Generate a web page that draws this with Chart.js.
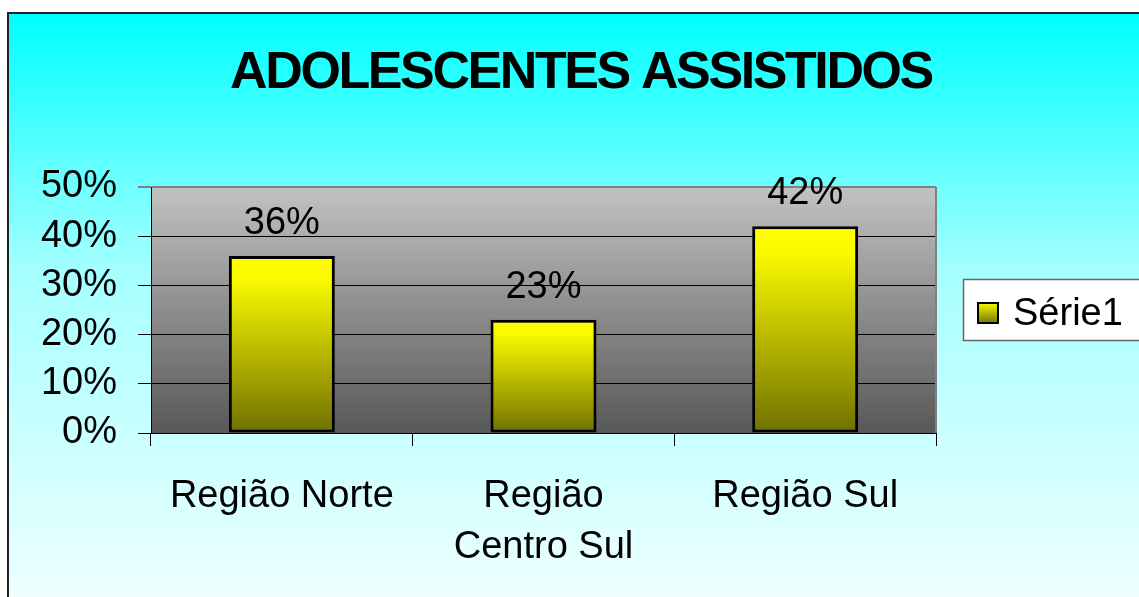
<!DOCTYPE html>
<html>
<head>
<meta charset="utf-8">
<script src="https://cdn.jsdelivr.net/npm/chart.js"></script>
<style>
  body { margin: 0; background: #fff; overflow: hidden; }
  #frame {
    position: absolute; left: 7px; top: 12px; width: 1140px; height: 600px;
    border-left: 2px solid #222; border-top: 2px solid #222;
    background: linear-gradient(to bottom, #00ffff 0%, #a6ffff 43%, #f2ffff 100%);
  }
  #chart { position: absolute; left: 0; top: 0; }
</style>
</head>
<body>
<div id="frame"><canvas id="chart" width="1130" height="583"></canvas></div>
<script>
  // chart data
  const chartTitle = "ADOLESCENTES ASSISTIDOS";
  const categories = ["Região Norte", ["Região", "Centro Sul"], "Região Sul"];
  const seriesName = "Série1";
  const values = [36, 23, 42];
  const yMin = 0, yMax = 50, yStep = 10;

  const FONT = "'Liberation Sans', Arial, sans-serif";

  // gray gradient behind the plot + gray right border
  const plotBg = {
    id: "plotBg",
    beforeDraw(chart) {
      const { ctx, chartArea: a } = chart;
      const g = ctx.createLinearGradient(0, a.top, 0, a.bottom);
      g.addColorStop(0, "#c2c2c2");
      g.addColorStop(1, "#585858");
      ctx.save();
      ctx.fillStyle = g;
      ctx.fillRect(a.left, a.top, a.right - a.left, a.bottom - a.top);
      ctx.restore();
    },
    beforeDatasetsDraw(chart) {
      const { ctx, chartArea: a } = chart;
      ctx.save();
      ctx.strokeStyle = "#808080";
      ctx.lineWidth = 2;
      ctx.beginPath();
      ctx.moveTo(a.right, a.top);
      ctx.lineTo(a.right, a.bottom);
      ctx.stroke();
      ctx.restore();
    },
  };

  // value labels above bars
  const valueLabels = {
    id: "valueLabels",
    afterDatasetsDraw(chart) {
      const ctx = chart.ctx;
      ctx.save();
      ctx.font = "38px " + FONT;
      ctx.fillStyle = "#000";
      ctx.textAlign = "center";
      ctx.textBaseline = "alphabetic";
      chart.getDatasetMeta(0).data.forEach((bar, i) => {
        ctx.fillText(values[i] + "%", bar.x, bar.y - 22);
      });
      ctx.restore();
    },
  };

  // title and legend box
  const titleLegend = {
    id: "titleLegend",
    afterDraw(chart) {
      const ctx = chart.ctx;
      ctx.save();
      ctx.font = "bold 52px " + FONT;
      ctx.letterSpacing = "-2.4px";
      ctx.fillStyle = "#000";
      ctx.textAlign = "center";
      ctx.fillText(chartTitle, 572, 74);
      ctx.letterSpacing = "0px";

      // legend
      ctx.fillStyle = "#fff";
      ctx.fillRect(954, 265, 200, 61);
      ctx.strokeStyle = "#666";
      ctx.lineWidth = 1.5;
      ctx.strokeRect(954.5, 265.5, 200, 61);
      const g = ctx.createLinearGradient(0, 288, 0, 310);
      g.addColorStop(0, "#ffff00");
      g.addColorStop(1, "#707000");
      ctx.fillStyle = g;
      ctx.fillRect(968, 288, 22, 22);
      ctx.strokeStyle = "#000";
      ctx.lineWidth = 2;
      ctx.strokeRect(969, 289, 20, 20);
      ctx.fillStyle = "#000";
      ctx.font = "38px " + FONT;
      ctx.textAlign = "left";
      ctx.fillText(seriesName, 1004, 311);
      ctx.restore();
    },
  };

  new Chart("chart", {
    type: "bar",
    data: {
      labels: categories,
      datasets: [
        {
          label: seriesName,
          data: values,
          borderColor: "#000",
          borderWidth: 3,
          borderSkipped: false,
          categoryPercentage: 1,
          barPercentage: 0.405,
          backgroundColor: (c) => {
            const chart = c.chart;
            const y = chart.scales.y;
            if (!y || c.dataIndex === undefined) return "#ffff00";
            const top = y.getPixelForValue(values[c.dataIndex]);
            const bot = y.getPixelForValue(0);
            if (!isFinite(top) || !isFinite(bot) || top === bot) return "#ffff00";
            const g = chart.ctx.createLinearGradient(0, top, 0, bot);
            g.addColorStop(0, "#ffff00");
            g.addColorStop(0.12, "#fbfb00");
            g.addColorStop(1, "#707000");
            return g;
          },
        },
      ],
    },
    plugins: [plotBg, valueLabels, titleLegend],
    options: {
      responsive: false,
      animation: false,
      layout: { padding: { top: 173, right: 203, left: 0, bottom: 0 } },
      plugins: {
        legend: { display: false },
        title: { display: false },
        tooltip: { enabled: false },
      },
      scales: {
        y: {
          min: yMin,
          max: yMax,
          afterFit: (s) => { s.width = 142; },
          ticks: {
            stepSize: yStep,
            padding: 21,
            color: "#000",
            font: { family: FONT, size: 38 },
            callback: (v) => v + "%",
          },
          grid: {
            color: (c) => (c.tick && c.tick.value === yMax ? "#808080" : "#000"),
            lineWidth: (c) => (c.tick && c.tick.value === yMax ? 2 : 1),
            tickLength: 13,
          },
          border: { display: true, color: "#000", width: 1 },
        },
        x: {
          afterFit: (s) => { s.height = 164; },
          ticks: {
            padding: 25,
            color: "#000",
            maxRotation: 0,
            autoSkip: false,
            font: { family: FONT, size: 38, lineHeight: 1.342 },
          },
          grid: {
            offset: true,
            drawOnChartArea: false,
            tickLength: 13,
            color: "#000",
          },
          border: { display: true, color: "#000", width: 1 },
        },
      },
    },
  });
</script>
</body>
</html>
